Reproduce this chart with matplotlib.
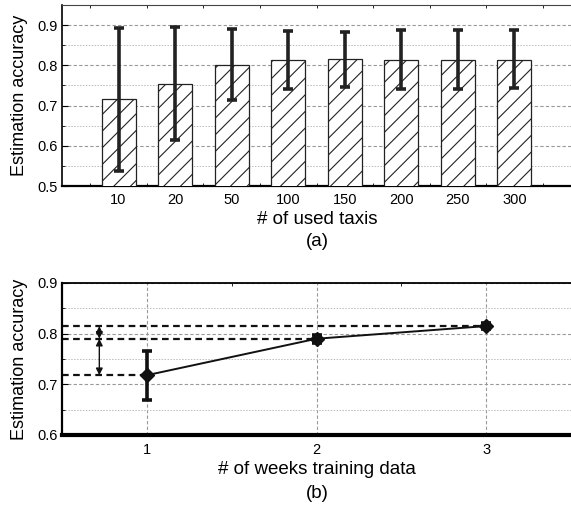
import matplotlib
matplotlib.use("Agg")
import matplotlib.pyplot as plt
from matplotlib.ticker import MultipleLocator, FixedLocator
import numpy as np

plt.rcParams['font.family'] = ['Liberation Sans', 'DejaVu Sans']
plt.rcParams['hatch.linewidth'] = 0.8

# (a) accuracy vs number of taxis
taxi_labels = ["10", "20", "50", "100", "150", "200", "250", "300"]
taxi_mean = [0.716, 0.754, 0.802, 0.813, 0.815, 0.814, 0.814, 0.814]
taxi_upper = [0.894, 0.896, 0.891, 0.886, 0.883, 0.888, 0.887, 0.887]
taxi_lower = [0.537, 0.615, 0.715, 0.740, 0.746, 0.741, 0.742, 0.743]

# (b) accuracy vs weeks of training data
weeks = [1, 2, 3]
week_mean = [0.718, 0.790, 0.815]
week_err = [0.048, 0.008, 0.006]

fig = plt.figure(figsize=(5.71, 5.09), dpi=100)
W, H = 571, 509

def frac(l, t, r, b):
    return [l / W, 1 - b / H, (r - l) / W, (b - t) / H]

grid_major = dict(color='#999999', linestyle=(0, (3, 2)), linewidth=0.8)
grid_minor = dict(color='#bbbbbb', linestyle=(0, (1.5, 1.5)), linewidth=0.7)

TICK_FS = 10.5
LABEL_FS = 13.5
YLABEL_FS = 13
YLABEL_X = -34 / 509

# ---- panel (a)
ax1 = fig.add_axes(frac(62, 5, 571, 186))
x = np.arange(1, len(taxi_labels) + 1)
mean = np.array(taxi_mean)
yerr = [mean - np.array(taxi_lower), np.array(taxi_upper) - mean]
ax1.bar(x, mean, width=0.6, bottom=0, color='white', edgecolor='#222222',
        hatch='//', linewidth=0.9, zorder=3)
ax1.errorbar(x, mean, yerr=yerr, fmt='none', ecolor='#222222', elinewidth=2.6,
             capsize=3.4, capthick=2.6, zorder=4)
ax1.set_xlim(0, 9)
ax1.set_ylim(0.5, 0.95)
ax1.set_xticks(x)
ax1.set_xticklabels(taxi_labels, fontsize=TICK_FS)
ax1.xaxis.set_minor_locator(FixedLocator(np.arange(0.5, 9, 1.0)))
ax1.tick_params(axis='x', which='major', length=0, pad=5)
ax1.tick_params(axis='x', which='minor', direction='in', length=2.5, top=True, bottom=True)
ax1.set_yticks([0.5, 0.6, 0.7, 0.8, 0.9])
ax1.set_yticklabels(["0.5", "0.6", "0.7", "0.8", "0.9"])
ax1.yaxis.set_minor_locator(MultipleLocator(0.05))
ax1.tick_params(axis='y', which='major', labelsize=TICK_FS, direction='in', length=4, pad=3)
ax1.tick_params(axis='y', which='minor', direction='in', length=2.5)
ax1.grid(True, axis='y', which='major', **grid_major, zorder=0)
ax1.grid(True, axis='y', which='minor', **grid_minor, zorder=0)
ax1.set_axisbelow(True)
ax1.spines['right'].set_visible(False)
ax1.spines['bottom'].set_linewidth(1.6)
ax1.spines['left'].set_linewidth(1.2)
ax1.spines['top'].set_color('#444444')
ax1.set_ylabel("Estimation accuracy", fontsize=YLABEL_FS)
ax1.yaxis.set_label_coords(YLABEL_X, 0.5)
fig.text(317 / W, 1 - 219 / H, "# of used taxis", fontsize=LABEL_FS,
         ha='center', va='center')
fig.text(317 / W, 1 - 242 / H, "(a)", fontsize=LABEL_FS, ha='center', va='center')

# ---- panel (b)
ax2 = fig.add_axes(frac(62, 283, 571, 435))
ax2.set_xlim(0.5, 3.5)
ax2.set_ylim(0.6, 0.9)
ax2.set_xticks(weeks)
ax2.set_xticklabels([str(w) for w in weeks], fontsize=TICK_FS)
ax2.xaxis.set_minor_locator(FixedLocator([1.5, 2.5]))
ax2.tick_params(axis='x', which='major', length=0, pad=6)
ax2.tick_params(axis='x', which='minor', direction='in', length=2.5, top=True, bottom=False)
ax2.set_yticks([0.6, 0.7, 0.8, 0.9])
ax2.set_yticklabels(["0.6", "0.7", "0.8", "0.9"])
ax2.yaxis.set_minor_locator(MultipleLocator(0.05))
ax2.tick_params(axis='y', which='major', labelsize=TICK_FS, direction='in', length=4, pad=3)
ax2.tick_params(axis='y', which='minor', direction='in', length=2.5)
ax2.grid(True, axis='y', which='major', **grid_major, zorder=0)
ax2.grid(True, axis='y', which='minor', **grid_minor, zorder=0)
ax2.grid(True, axis='x', which='major', **grid_major, zorder=0)
ax2.set_axisbelow(True)
ax2.spines['right'].set_visible(False)
ax2.spines['bottom'].set_linewidth(3.0)
ax2.spines['top'].set_linewidth(1.3)
ax2.spines['left'].set_linewidth(1.6)

# reference levels for each week count
for wx, wy in zip(weeks, week_mean):
    ax2.plot([0.5, wx], [wy, wy], color='#111111', linestyle=(0, (3, 2)),
             linewidth=1.6, zorder=2)

ax2.errorbar(weeks, week_mean, yerr=week_err, fmt='-D', color='#111111',
             markersize=7, linewidth=1.4, elinewidth=2.6, capsize=3.4,
             capthick=2.6, zorder=4)

# gain arrows between levels
arrow_x = 0.72
for y0, y1 in [(week_mean[0], week_mean[1]), (week_mean[1], week_mean[2])]:
    ax2.annotate("", xy=(arrow_x, y1), xytext=(arrow_x, y0),
                 arrowprops=dict(arrowstyle='<|-|>', color='#111111', lw=1.0,
                                 mutation_scale=10, shrinkA=0, shrinkB=0),
                 zorder=3)

ax2.set_ylabel("Estimation accuracy", fontsize=YLABEL_FS)
ax2.yaxis.set_label_coords(YLABEL_X, 0.5)
fig.text(317 / W, 1 - 470 / H, "# of weeks training data", fontsize=LABEL_FS,
         ha='center', va='center')
fig.text(317 / W, 1 - 494 / H, "(b)", fontsize=LABEL_FS, ha='center', va='center')

fig.savefig("out.png", dpi=100)
